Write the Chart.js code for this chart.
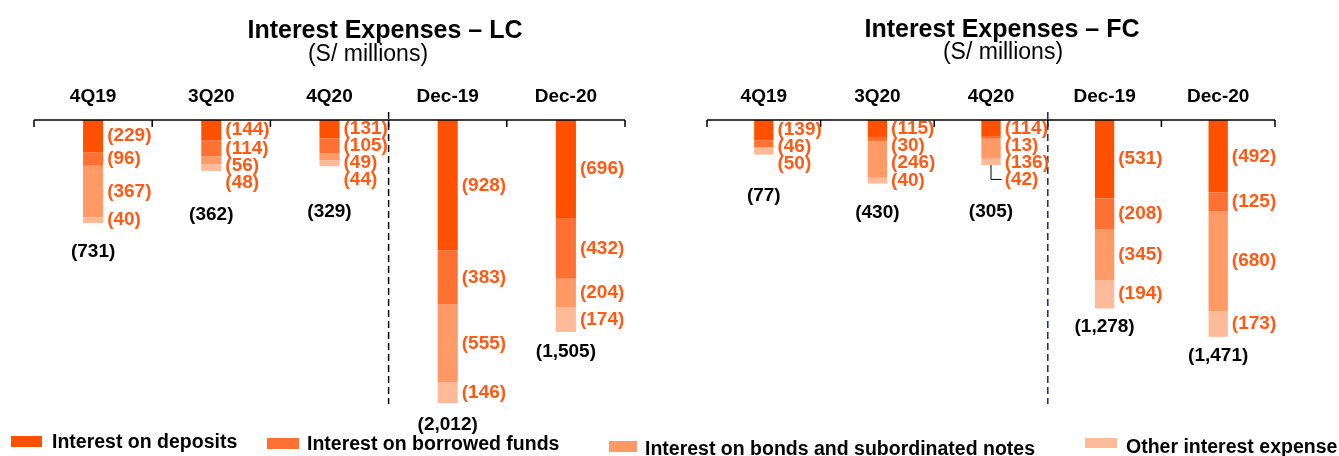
<!DOCTYPE html>
<html>
<head>
<meta charset="utf-8">
<script src="https://cdn.jsdelivr.net/npm/chart.js@4/dist/chart.umd.min.js"></script>
<style>
  body { margin: 0; background: #fff; font-family: 'Liberation Sans', Arial, sans-serif; }
  #wrap { position: relative; width: 1339px; height: 456px; overflow: hidden; }
  canvas { position: absolute; left: 0; top: 0; }
  .title { position: absolute; width: 500px; text-align: center; font-weight: bold; font-size: 25px; line-height: 25px; color: #000; white-space: nowrap; }
  .sub { position: absolute; width: 500px; text-align: center; font-size: 23px; line-height: 23px; color: #000; white-space: nowrap; }
  .leg { position: absolute; font-weight: bold; font-size: 19.5px; line-height: 20px; color: #000; white-space: nowrap; }
  .sw { position: absolute; }
</style>
</head>
<body>
<div id="wrap">
  <canvas id="lc" width="1339" height="456"></canvas>
  <canvas id="fc" width="1339" height="456"></canvas>
  <div class="title" style="left:135px; top:17px;">Interest Expenses – LC</div>
  <div class="sub" style="left:118px; top:42px;">(S/ millions)</div>
  <div class="title" style="left:752px; top:16px;">Interest Expenses – FC</div>
  <div class="sub" style="left:753px; top:40px;">(S/ millions)</div>
</div>
<script>
// data (S/ millions)
const categories = ['4Q19', '3Q20', '4Q20', 'Dec-19', 'Dec-20'];
const seriesNames = ['Interest on deposits', 'Interest on borrowed funds',
                     'Interest on bonds and subordinated notes', 'Other interest expense'];

const lcDeposits = [229, 144, 131, 928, 696];
const lcBorrowed = [96, 114, 105, 383, 432];
const lcBonds    = [367, 56, 49, 555, 204];
const lcOther    = [40, 48, 44, 146, 174];
const lcTotals   = [731, 362, 329, 2012, 1505];

const fcDeposits = [139, 115, 114, 531, 492];
const fcBorrowed = [46, 30, 13, 208, 125];
const fcBonds    = [0, 246, 136, 345, 680];
const fcOther    = [50, 40, 42, 194, 173];
const fcTotals   = [77, 430, 305, 1278, 1471];

const colors = ['#FF5000', '#FF7033', '#FF9966', '#FFBA99'];
const labelColor = '#FF5A14';
const FONT = '"Liberation Sans", Arial, sans-serif';

const fmt = v => '(' + v.toLocaleString('en-US') + ')';

// axis line, boundary ticks, separator and the value labels
const decor = {
    id: 'decor',
    afterDatasetsDraw(chart, args, opts) {
        const ctx = chart.ctx;
        const x = chart.scales.x;
        const top = chart.chartArea.top;
        const step = x.width / categories.length;
        ctx.save();

        ctx.strokeStyle = '#000';
        ctx.lineWidth = 1.5;
        ctx.beginPath();
        ctx.moveTo(x.left, top);
        ctx.lineTo(x.right, top);
        for (let k = 0; k <= categories.length; k++) {
            const px = x.left + k * step;
            ctx.moveTo(px, top);
            ctx.lineTo(px, top + 7);
        }
        ctx.stroke();

        const sep = (x.getPixelForValue(2) + x.getPixelForValue(3)) / 2;
        ctx.strokeStyle = opts.dash;
        ctx.setLineDash([7, 4]);
        ctx.beginPath();
        ctx.moveTo(sep, top - 8);
        ctx.lineTo(sep, chart.chartArea.bottom - 16);
        ctx.stroke();
        ctx.setLineDash([]);

        ctx.font = 'bold 19px ' + FONT;
        ctx.textBaseline = 'middle';
        categories.forEach((c, i) => {
            let last = -Infinity, bottom = top, cx = 0, right = 0;
            chart.data.datasets.forEach((ds, d) => {
                const v = ds.data[i];
                if (!v) return;
                const bar = chart.getDatasetMeta(d).data[i];
                cx = bar.x;
                right = bar.x + bar.width / 2;
                bottom = Math.max(bottom, bar.y);
                const y = Math.max((bar.y + bar.base) / 2, last + 17);
                last = y;
                ctx.fillStyle = labelColor;
                ctx.textAlign = 'left';
                ctx.fillText(fmt(v), right + 4, y);
            });
            if (opts.leader === i) {
                ctx.strokeStyle = '#000';
                ctx.lineWidth = 1;
                ctx.beginPath();
                ctx.moveTo(cx, bottom);
                ctx.lineTo(cx, last);
                ctx.lineTo(right + 1, last);
                ctx.stroke();
            }
            ctx.fillStyle = '#000';
            ctx.textAlign = 'center';
            ctx.fillText(fmt(opts.totals[i]), cx, Math.max(bottom + 18, last + 32));
        });
        ctx.restore();
    }
};

function makeChart(id, values, totals, yMax, padLeft, padRight, dash, leader) {
    new Chart(document.getElementById(id), {
        type: 'bar',
        data: {
            labels: categories,
            datasets: values.map((vals, k) => ({
                label: seriesNames[k],
                data: vals,
                backgroundColor: colors[k],
                borderWidth: 0,
                barPercentage: 0.17,
                categoryPercentage: 1
            }))
        },
        options: {
            responsive: false,
            animation: false,
            layout: { padding: { left: padLeft, right: padRight, top: 0, bottom: 36 } },
            plugins: {
                legend: { display: false },
                tooltip: { enabled: false },
                decor: { totals: totals, dash: dash, leader: leader }
            },
            scales: {
                x: {
                    stacked: true,
                    position: 'top',
                    offset: true,
                    grid: { display: false, drawTicks: false },
                    border: { display: false },
                    ticks: { color: '#000', font: { family: FONT, size: 19, weight: 'bold' }, padding: 12, maxRotation: 0 },
                    afterFit: s => { s.height = 120; }
                },
                y: {
                    stacked: true,
                    reverse: true,
                    min: 0,
                    max: yMax,
                    display: false
                }
            }
        },
        plugins: [decor]
    });
}

makeChart('lc', [lcDeposits, lcBorrowed, lcBonds, lcOther], lcTotals, 2132, 34, 714, '#000', -1);
makeChart('fc', [fcDeposits, fcBorrowed, fcBonds, fcOther], fcTotals, 2034, 707, 64, '#1F1F7A', 2);

// legend along the bottom
const legendSpots = [
    { sw: [11, 436, 31, 11], text: [52, 431] },
    { sw: [267, 438, 32, 11], text: [307, 433] },
    { sw: [609, 441, 28, 11], text: [645, 438] },
    { sw: [1085, 438, 32, 10], text: [1126, 436] }
];
const wrap = document.getElementById('wrap');
seriesNames.forEach((name, k) => {
    const s = legendSpots[k];
    const sw = document.createElement('div');
    sw.className = 'sw';
    sw.style.cssText = `left:${s.sw[0]}px;top:${s.sw[1]}px;width:${s.sw[2]}px;height:${s.sw[3]}px;background:${colors[k]};`;
    const t = document.createElement('div');
    t.className = 'leg';
    t.style.left = s.text[0] + 'px';
    t.style.top = s.text[1] + 'px';
    t.textContent = name;
    wrap.appendChild(sw);
    wrap.appendChild(t);
});
</script>
</body>
</html>
